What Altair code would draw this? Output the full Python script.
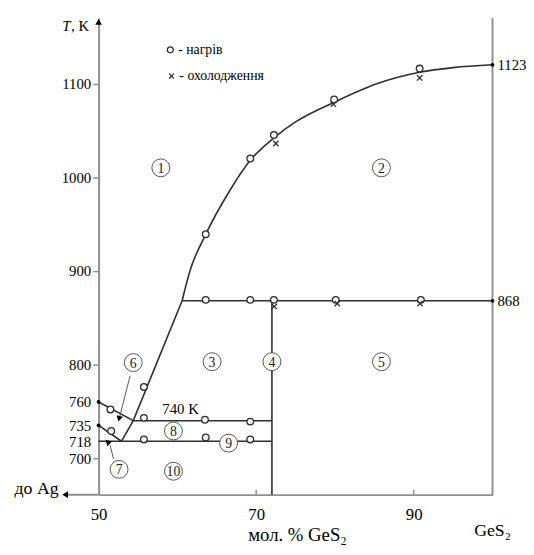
import altair as alt
import pandas as pd

FONT = "Liberation Serif"
AX = "#8f8f8f"
LN = "#2e2e2e"

# ---- data ----
x_ticks = [50, 70, 90]
y_ticks = [700, 718, 735, 760, 800, 900, 1000, 1100]
y_noticks = [718, 735, 760]

# liquidus curve above 868 K
liq_x = [60.6, 61.6, 63.6, 66.6, 69.25, 72.25, 75.0, 79.9, 85.4, 90.75, 95.0, 100.0]
liq_t = [868, 900, 939, 985, 1018, 1042, 1059, 1080, 1100, 1112, 1117, 1120]

# straight boundary segments (start x, start T, end x, end T)
seg_x1 = [54.4, 50.0, 50.0, 52.9, 54.4, 50.0, 60.6, 72.0]
seg_t1 = [740, 760, 735, 718, 740, 718, 868, 661]
seg_x2 = [60.6, 54.4, 52.9, 54.4, 72.0, 72.0, 100.0, 72.0]
seg_t2 = [868, 740, 718, 740, 740, 718, 868, 868]

# heating (circles)
heat_x = [55.75, 63.6, 69.25, 72.25, 79.9, 90.75, 63.6, 69.25, 72.25, 80.1, 90.9,
          55.75, 63.5, 69.25, 55.75, 63.6, 69.25, 51.5, 51.6]
heat_t = [776, 939, 1020, 1045, 1083, 1116, 869, 869, 869, 869, 869,
          743, 741, 739, 720, 722, 720, 752, 729]

# cooling (crosses)
cool_x = [72.5, 79.8, 90.75, 72.3, 80.3, 90.8]
cool_t = [1036, 1078, 1106, 862, 865, 865]

# end dots
dot_x = [50, 50, 100, 100]
dot_t = [760, 735, 868, 1120]

# circled region labels
lab_txt = ["1", "2", "3", "4", "5", "6", "7", "8", "9", "10"]
lab_x = [57.9, 85.9, 64.4, 72.0, 85.9, 54.4, 52.6, 59.5, 66.5, 59.5]
lab_t = [1010, 1010, 803, 803, 803, 802, 688, 729, 716, 686]

# leader arrows for labels 6 and 7
arr_id = ["6", "6", "7", "7"]
arr_x = [54.0, 52.7, 51.9, 51.45]
arr_t = [788, 745, 699, 714]
head_x = [52.6, 51.35]
head_t = [742, 717]
head_ang = [194, 75]

# value annotations
note_txt = ["1123", "868"]
note_x = [100, 100]
note_t = [1120, 868]

# legend
leg_sym_x = [59.1, 59.25]
leg_sym_t = [1136, 1108]
leg_txt = ["- нагрів", "- охолодження"]

# ---- scales / axes ----
xs = alt.Scale(domain=[50, 100], nice=False, zero=False)
ys = alt.Scale(domain=[661, 1170], nice=False, zero=False)

xaxis = alt.Axis(values=x_ticks, tickSize=0, labelFont=FONT, labelFontSize=17, format="d",
                 labelColor="black", labelPadding=12, domainColor=AX, domainWidth=2,
                 grid=False, title=None, labelFlush=False)
yaxis = alt.Axis(values=y_ticks, tickSize=6, tickWidth=1.5, format="d",
                 tickColor={"condition": {"test": "indexof([718,735,760], datum.value) >= 0",
                                          "value": "transparent"}, "value": AX},
                 labelFont=FONT, labelFontSize=15, labelColor="black", labelPadding=2,
                 domainColor=AX, domainWidth=2, grid=False, title=None,
                 labelOverlap=False, labelFlush=False)


def X(f="x"):
    return alt.X(f"{f}:Q", scale=xs, axis=xaxis)


def Y(f="t"):
    return alt.Y(f"{f}:Q", scale=ys, axis=yaxis)


# ---- dataframes ----
rows = []
for i, (x, t) in enumerate(zip(liq_x, liq_t)):
    rows.append({"seg": "liq", "o": i, "x": x, "t": t})
for k in range(len(seg_x1)):
    rows.append({"seg": f"s{k}", "o": 0, "x": seg_x1[k], "t": seg_t1[k]})
    rows.append({"seg": f"s{k}", "o": 1, "x": seg_x2[k], "t": seg_t2[k]})
lines_df = pd.DataFrame(rows)

heat_df = pd.DataFrame({"x": heat_x, "t": heat_t})
cool_df = pd.DataFrame({"x": cool_x, "t": cool_t})
dot_df = pd.DataFrame({"x": dot_x, "t": dot_t})
lab_df = pd.DataFrame({"x": lab_x, "t": lab_t, "txt": lab_txt})
arr_df = pd.DataFrame({"x": arr_x, "t": arr_t, "id": arr_id, "o": [0, 1, 0, 1]})
head_df = pd.DataFrame({"x": head_x, "t": head_t, "a": head_ang})
note_df = pd.DataFrame({"x": note_x, "t": note_t, "txt": note_txt})
leg_df = pd.DataFrame({"x": leg_sym_x, "t": leg_sym_t, "txt": leg_txt})

CROSS = "M-1,-1L1,1M-1,1L1,-1"

lines = alt.Chart(lines_df).mark_line(color=LN, strokeWidth=1.6, interpolate="monotone").encode(
    x=X(), y=Y(), detail="seg:N", order="o:Q")

right_border = alt.Chart(pd.DataFrame({"a": [0]})).mark_rule(color=AX, strokeWidth=2).encode(
    x=alt.value(400), y=alt.value(0), y2=alt.value(484))
x_ext = alt.Chart(pd.DataFrame({"a": [0]})).mark_rule(color=AX, strokeWidth=2).encode(
    x=alt.value(-33), x2=alt.value(0), y=alt.value(484))
x_tick_marks = alt.Chart(pd.DataFrame({"x": x_ticks[1:]})).mark_rule(color=AX, strokeWidth=1.5).encode(
    x=X(), y=alt.value(484), y2=alt.value(479))
arrow_up = alt.Chart(pd.DataFrame({"a": [0]})).mark_point(
    shape="triangle-up", filled=True, color="black", size=45, opacity=1).encode(
    x=alt.value(0), y=alt.value(4))
arrow_left = alt.Chart(pd.DataFrame({"a": [0]})).mark_point(
    shape="triangle-left", filled=True, color="black", size=45, opacity=1).encode(
    x=alt.value(-34), y=alt.value(484))

heat = alt.Chart(heat_df).mark_point(shape="circle", size=46, filled=True, fill="white",
                                     stroke=LN, strokeWidth=1.3, opacity=1).encode(x=X(), y=Y())
cool = alt.Chart(cool_df).mark_point(shape=CROSS, size=30, filled=False, stroke=LN,
                                     strokeWidth=1.3, opacity=1).encode(x=X(), y=Y())
dots = alt.Chart(dot_df).mark_point(shape="circle", size=14, filled=True, color="black",
                                    opacity=1).encode(x=X(), y=Y())

arr_lines = alt.Chart(arr_df).mark_line(color="#555", strokeWidth=1).encode(
    x=X(), y=Y(), detail="id:N", order="o:Q")
arr_heads = alt.Chart(head_df).mark_point(shape="triangle-up", filled=True, color="black",
                                          size=45, opacity=1).encode(
    x=X(), y=Y(), angle=alt.Angle("a:Q", scale=None))

lab_circ = alt.Chart(lab_df).mark_point(shape="circle", size=330, filled=True, fill="white",
                                        stroke="#555", strokeWidth=1, opacity=1).encode(x=X(), y=Y())
lab_text = alt.Chart(lab_df).mark_text(font=FONT, fontSize=14, color="#222", baseline="middle",
                                       dy=1).encode(x=X(), y=Y(), text="txt:N")

k740 = alt.Chart(pd.DataFrame({"x": [60.4], "t": [752], "txt": ["740 K"]})).mark_text(
    font=FONT, fontSize=15, color="black").encode(x=X(), y=Y(), text="txt:N")
notes = alt.Chart(note_df).mark_text(font=FONT, fontSize=15, color="black", align="left",
                                     dx=5).encode(x=X(), y=Y(), text="txt:N")

leg_c = alt.Chart(leg_df.iloc[[0]]).mark_point(shape="circle", size=36, filled=False,
                                               stroke=LN, strokeWidth=1.3, opacity=1).encode(x=X(), y=Y())
leg_x = alt.Chart(leg_df.iloc[[1]]).mark_point(shape=CROSS, size=24, filled=False,
                                               stroke=LN, strokeWidth=1.3, opacity=1).encode(x=X(), y=Y())
leg_t = alt.Chart(leg_df).mark_text(font=FONT, fontSize=14, color="black", align="left",
                                    dx=8).encode(x=X(), y=Y(), text="txt:N")

one = pd.DataFrame({"a": [0]})
t_ital = alt.Chart(one).mark_text(font=FONT, fontSize=15, fontStyle="italic", color="black",
                                  align="left", text="T").encode(x=alt.value(-37), y=alt.value(8))
t_rest = alt.Chart(one).mark_text(font=FONT, fontSize=15, color="black", align="left",
                                  text=", K").encode(x=alt.value(-28), y=alt.value(8))
do_ag = alt.Chart(one).mark_text(font=FONT, fontSize=18, color="black", align="center",
                                 text="до Ag").encode(x=alt.value(-63), y=alt.value(478))
ges2 = alt.Chart(one).mark_text(font=FONT, fontSize=18, color="black", align="center",
                                text="GeS₂").encode(x=alt.value(400), y=alt.value(521))
xtitle = alt.Chart(one).mark_text(font=FONT, fontSize=19, color="black", align="center",
                                  baseline="alphabetic", text="мол. % GeS₂").encode(
    x=alt.value(202), y=alt.value(531))

chart = alt.layer(
    lines, right_border, x_ext, x_tick_marks, arrow_up, arrow_left,
    arr_lines, arr_heads, heat, cool, dots, lab_circ, lab_text, k740, notes,
    leg_c, leg_x, leg_t, t_ital, t_rest, do_ag, ges2, xtitle
).properties(
    width=400, height=484,
    autosize=alt.AutoSizeParams(type="none"),
    padding={"left": 92, "top": 6, "right": 34, "bottom": 49},
    background="white",
).configure(font=FONT).configure_axis(labelFont=FONT).configure_text(font=FONT).configure_view(stroke=None)

chart.save("out.html", embed_options={"renderer": "svg", "actions": False})
